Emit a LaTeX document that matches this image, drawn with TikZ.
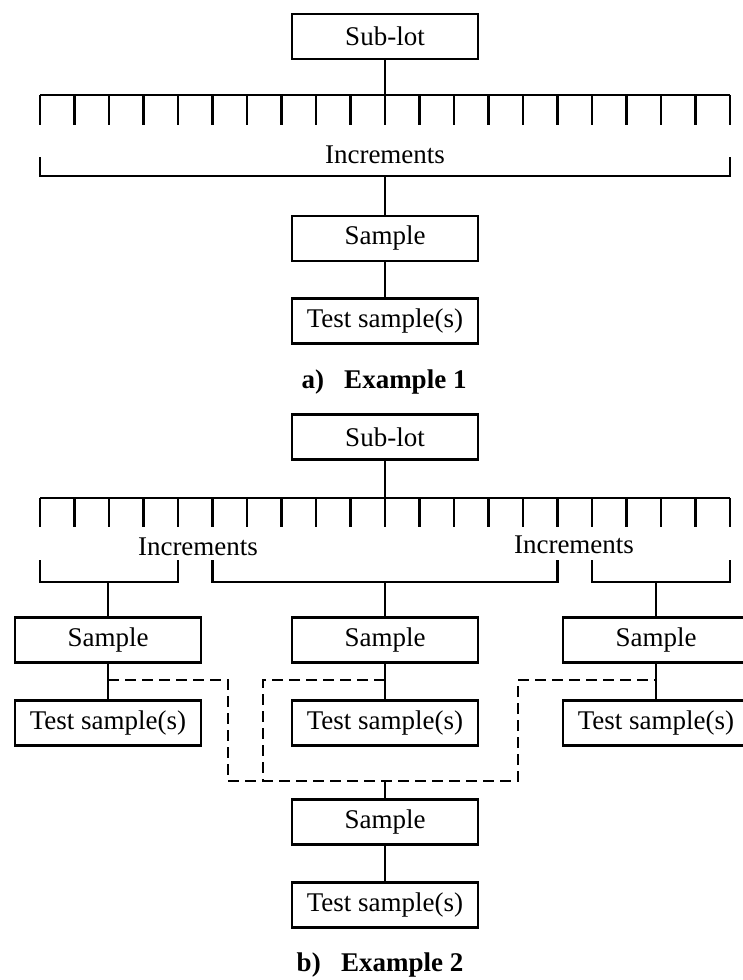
\documentclass[tikz,border=0pt]{standalone}
\usepackage{fontspec}
\setmainfont{Liberation Serif}
\usetikzlibrary{positioning}
\tikzstyle{every node}=[font=\fontsize{27}{30}\selectfont]
\tikzstyle{stagebox}=[draw, line width=2.6pt, minimum width=186pt, minimum height=45pt, inner sep=0pt]
\tikzstyle{link}=[line width=2.1pt]
\tikzstyle{dashlink}=[line width=2.1pt, dash pattern=on 11pt off 6pt]

\begin{document}
\begin{tikzpicture}[x=1pt,y=-1pt]
    \clip (0,0) rectangle (743,980);
    % a) Example 1
    \node[stagebox] (subA) at (385,36.5) {Sub-lot};
    \coordinate (combA) at (385,95);
    \draw[link] (40,95) -- (730,95);
    \foreach \i in {0,...,20} \draw[link] (40+34.5*\i,95) -- ++(0,30);
    \node (incA) at (385,155) {Increments};
    \draw[link] (40,157) |- (730,176) -- (730,157);
    \coordinate (brA) at (385,176);
    \node[stagebox] (sampA) at (385,238.5) {Sample};
    \node[stagebox] (testA) at (385,321) {Test sample(s)};
    \draw[link] (subA) -- (combA);
    \draw[link] (brA) -- (sampA);
    \draw[link] (sampA) -- (testA);
    \node[font=\fontsize{27}{30}\selectfont\bfseries] (capA) at (384,382) {a)\hspace{0.75em}Example 1};

    % b) Example 2
    \node[stagebox] (subB) at (385,437) {Sub-lot};
    \coordinate (combB) at (385,498);
    \draw[link] (40,498) -- (730,498);
    \foreach \i in {0,...,20} \draw[link] (40+34.5*\i,498) -- ++(0,29);
    \node (incL) at (198,547) {Increments};
    \node (incR) at (574,545) {Increments};
    \draw[link] (40,560) |- (178,582) -- (178,560);
    \draw[link] (212.5,560) |- (557.5,582) -- (557.5,560);
    \draw[link] (592,560) |- (730,582) -- (730,560);
    \coordinate (brL) at (108,582);
    \coordinate (brM) at (385,582);
    \coordinate (brR) at (656,582);
    \draw[link] (subB) -- (combB);

    \node[stagebox] (sampL) at (108,640) {Sample};
    \node[stagebox] (sampM) at (385,640) {Sample};
    \node[stagebox] (sampR) at (656,640) {Sample};
    \node[stagebox] (testL) at (108,723) {Test sample(s)};
    \node[stagebox] (testM) at (385,723) {Test sample(s)};
    \node[stagebox] (testR) at (656,723) {Test sample(s)};
    \draw[link] (brL) -- (sampL);
    \draw[link] (brM) -- (sampM);
    \draw[link] (brR) -- (sampR);
    \draw[link] (sampL) -- (testL);
    \draw[link] (sampM) -- (testM);
    \draw[link] (sampR) -- (testR);

    \coordinate (jL) at (108,680);
    \coordinate (jM) at (385,680);
    \coordinate (jR) at (656,680);
    \coordinate (jB) at (385,781);
    \draw[dashlink] (jL) -- (228,680) |- (jB) -| (518,680) -- (jR);
    \draw[dashlink] (jM) -- (263,680) -- (263,781);

    \node[stagebox] (sampB) at (385,822) {Sample};
    \node[stagebox] (testB) at (385,905) {Test sample(s)};
    \draw[link] (jB) -- (sampB);
    \draw[link] (sampB) -- (testB);
    \node[font=\fontsize{27}{30}\selectfont\bfseries] (capB) at (380,965) {b)\hspace{0.75em}Example 2};
\end{tikzpicture}
\end{document}
